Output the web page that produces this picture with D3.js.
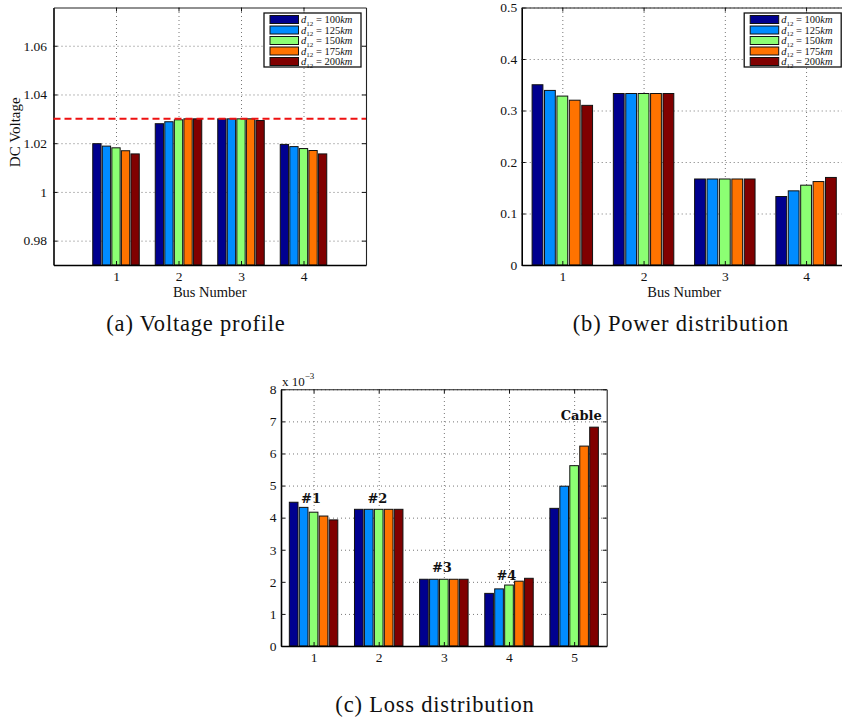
<!DOCTYPE html>
<html>
<head>
<meta charset="utf-8">
<script src="https://cdn.jsdelivr.net/npm/d3@7"></script>
<style>
  body { margin: 0; background: #fff; }
  text { font-family: "Liberation Serif", "Times New Roman", serif; fill: #111; }
</style>
</head>
<body>
<div id="chart"></div>
<script>
// series (line length d12 in km)
var seriesLabels = ["100", "125", "150", "175", "200"];

// (a) voltage profile, one row per bus, one value per series
var voltageBuses = [1, 2, 3, 4];
var voltageValues = [
  [1.0198, 1.0188, 1.0181, 1.0169, 1.0156],
  [1.0280, 1.0288, 1.0296, 1.0300, 1.0300],
  [1.0300, 1.0300, 1.0300, 1.0300, 1.0293],
  [1.0195, 1.0186, 1.0178, 1.0170, 1.0156]
];
var voltageTicks = [0.98, 1, 1.02, 1.04, 1.06];
var voltageLimit = 1.03;

// (b) power distribution
var powerBuses = [1, 2, 3, 4];
var powerValues = [
  [0.350, 0.339, 0.328, 0.320, 0.310],
  [0.333, 0.333, 0.333, 0.333, 0.333],
  [0.167, 0.167, 0.167, 0.167, 0.167],
  [0.133, 0.144, 0.155, 0.162, 0.170]
];
var powerTicks = [0, 0.1, 0.2, 0.3, 0.4, 0.5];

// (c) loss distribution (x 10^-3)
var lossBuses = [1, 2, 3, 4, 5];
var lossValues = [
  [4.48, 4.32, 4.17, 4.05, 3.93],
  [4.26, 4.26, 4.26, 4.26, 4.26],
  [2.08, 2.08, 2.08, 2.08, 2.08],
  [1.64, 1.78, 1.90, 2.02, 2.11],
  [4.29, 4.98, 5.62, 6.23, 6.82]
];
var lossTicks = [0, 1, 2, 3, 4, 5, 6, 7, 8];
var lossNotes = ["#1", "#2", "#3", "#4", "Cable"];
var lossNoteBus = [0.96, 1.98, 2.97, 3.96, 5.11];
var lossNoteValue = [4.46, 4.46, 2.31, 2.06, 7.04];

var barColors = ["#00008f", "#008cff", "#8cff73", "#ff7300", "#800000"];

var svg = d3.select("#chart")
  .append("svg")
  .attr("width", 842)
  .attr("height", 719);

svg.append("rect").attr("width", 842).attr("height", 719).attr("fill", "#fff");

function fmt(d) { return String(+d.toFixed(3)); }

// ve 1 panel bar chart kieu matlab
function drawPanel(p) {
  var w = p.right - p.left, h = p.bottom - p.top;
  var g = svg.append("g").attr("transform", "translate(" + p.left + "," + p.top + ")");

  var x = d3.scaleLinear().domain(p.xDomain).range([0, w]);
  var y = d3.scaleLinear().domain(p.yDomain).range([h, 0]);
  var step = x(2) - x(1);
  var inner = d3.scaleBand()
    .domain(seriesLabels)
    .range([-step * 0.372, step * 0.372])
    .paddingInner(0.13);

  // luoi cham
  g.append("g")
    .attr("class", "grid")
    .call(d3.axisLeft(y).tickValues(p.yTicks).tickSize(-w).tickFormat(""))
    .call(function(s) { s.select(".domain").remove(); });
  g.append("g")
    .attr("class", "grid")
    .attr("transform", "translate(0," + h + ")")
    .call(d3.axisBottom(x).tickValues(p.buses).tickSize(-h).tickFormat(""))
    .call(function(s) { s.select(".domain").remove(); });
  g.selectAll(".grid line")
    .attr("stroke", "#777")
    .attr("stroke-width", 1)
    .attr("stroke-dasharray", "1,3");

  // cac cot
  var groups = g.selectAll(".bus")
    .data(p.values)
    .enter().append("g")
    .attr("transform", function(d, i) { return "translate(" + x(p.buses[i]) + ",0)"; });

  groups.selectAll("rect")
    .data(function(d) { return d; })
    .enter().append("rect")
    .attr("x", function(d, j) { return inner(seriesLabels[j]); })
    .attr("y", function(d) { return y(Math.min(d, p.yDomain[1])); })
    .attr("width", inner.bandwidth())
    .attr("height", function(d) { return h - y(d); })
    .attr("fill", function(d, j) { return barColors[j]; })
    .attr("stroke", "#111")
    .attr("stroke-width", 1);

  // truc + tick huong vao trong
  var left = g.append("g")
    .call(d3.axisLeft(y).tickValues(p.yTicks).tickSizeInner(-4).tickSizeOuter(0).tickPadding(p.yPad).tickFormat(fmt));
  var bottom = g.append("g")
    .attr("transform", "translate(0," + h + ")")
    .call(d3.axisBottom(x).tickValues(p.buses).tickSizeInner(-4).tickSizeOuter(0).tickPadding(6.5).tickFormat(d3.format("d")));
  var top = g.append("g")
    .call(d3.axisTop(x).tickValues(p.buses).tickSizeInner(-4).tickSizeOuter(0).tickFormat(""));
  var right = g.append("g")
    .attr("transform", "translate(" + w + ",0)")
    .call(d3.axisRight(y).tickValues(p.yTicks).tickSizeInner(-4).tickSizeOuter(0).tickFormat(""));

  [left, bottom].forEach(function(a) {
    a.select(".domain").attr("stroke", "#000").attr("stroke-width", 1.6);
  });
  [top, right].forEach(function(a) {
    a.select(".domain").attr("stroke", "#222").attr("stroke-width", 1.1);
  });
  g.selectAll(".tick line").filter(function() { return !this.closest(".grid"); })
    .attr("stroke", "#111");
  g.selectAll(".tick text")
    .attr("font-size", "13.5px")
    .attr("fill", "#111");

  return { g: g, x: x, y: y, w: w, h: h };
}

function drawLegend(g, rightX) {
  var lw = 97, rowH = 10.5;
  var lg = g.append("g").attr("transform", "translate(" + (rightX - lw) + ",5.5)");
  lg.append("rect")
    .attr("width", lw).attr("height", 54)
    .attr("fill", "#fff").attr("stroke", "#111").attr("stroke-width", 1.3);
  var rows = lg.selectAll(".row")
    .data(seriesLabels)
    .enter().append("g")
    .attr("transform", function(d, i) { return "translate(0," + (6.5 + i * rowH) + ")"; });
  rows.append("rect")
    .attr("x", 6).attr("y", -4)
    .attr("width", 28.5).attr("height", 8)
    .attr("fill", function(d, i) { return barColors[i]; })
    .attr("stroke", "#111").attr("stroke-width", 1);
  var t = rows.append("text")
    .attr("x", 37).attr("y", 3.5)
    .attr("font-size", "10.5px");
  t.append("tspan").attr("font-style", "italic").text("d");
  t.append("tspan").attr("font-size", "7px").attr("dy", 2.5).text("12");
  t.append("tspan").attr("dy", -2.5).text(function(d) { return " = " + d; });
  t.append("tspan").attr("font-style", "italic").text("km");
}

// (a) Voltage profile
var pa = drawPanel({
  left: 53.5, right: 366, top: 7.5, bottom: 265,
  xDomain: [0, 5], yDomain: [0.97, 1.0757],
  buses: voltageBuses, values: voltageValues, yTicks: voltageTicks, yPad: 6.5
});
pa.g.append("line")
  .attr("x1", 0).attr("x2", pa.w)
  .attr("y1", pa.y(voltageLimit)).attr("y2", pa.y(voltageLimit))
  .attr("stroke", "#ee1111").attr("stroke-width", 2)
  .attr("stroke-dasharray", "7,4");
drawLegend(pa.g, pa.w - 5);
pa.g.append("text")
  .attr("x", pa.w / 2).attr("y", 289.5)
  .attr("text-anchor", "middle").attr("font-size", "14.5px")
  .text("Bus Number");
pa.g.append("text")
  .attr("transform", "translate(-34," + (pa.h / 2 - 4) + ") rotate(-90)")
  .attr("text-anchor", "middle").attr("font-size", "15px")
  .text("DC Voltage");

// (b) Power distribution
var pb = drawPanel({
  left: 521.7, right: 846.7, top: 7.5, bottom: 265,
  xDomain: [0.5, 4.5], yDomain: [0, 0.5],
  buses: powerBuses, values: powerValues, yTicks: powerTicks, yPad: 4.5
});
drawLegend(pb.g, pb.w - 5.5);
pb.g.append("text")
  .attr("x", pb.w / 2).attr("y", 289.5)
  .attr("text-anchor", "middle").attr("font-size", "14.5px")
  .text("Bus Number");

// (c) Loss distribution
var pc = drawPanel({
  left: 281, right: 606.7, top: 389.3, bottom: 646,
  xDomain: [0.5, 5.5], yDomain: [0, 8],
  buses: lossBuses, values: lossValues, yTicks: lossTicks, yPad: 4.5
});
pc.g.selectAll(".note")
  .data(lossNotes)
  .enter().append("text")
  .attr("x", function(d, i) { return pc.x(lossNoteBus[i]); })
  .attr("y", function(d, i) { return pc.y(lossNoteValue[i]); })
  .attr("text-anchor", "middle")
  .style("font-family", "'DejaVu Serif', serif")
  .style("font-weight", "bold")
  .style("font-size", "13px")
  .text(function(d) { return d; });
var ex = pc.g.append("text")
  .attr("x", 1).attr("y", -3.5)
  .attr("font-size", "13px");
ex.append("tspan").text("x 10");
ex.append("tspan").attr("font-size", "9px").attr("dy", -7).text("\u22123");

// chu thich duoi hinh
var caps = [
  { t: "(a) Voltage profile", x: 196, y: 331 },
  { t: "(b) Power distribution", x: 681, y: 331 },
  { t: "(c) Loss distribution", x: 435, y: 712 }
];
svg.selectAll(".cap")
  .data(caps)
  .enter().append("text")
  .attr("x", function(d) { return d.x; })
  .attr("y", function(d) { return d.y; })
  .attr("text-anchor", "middle")
  .attr("font-size", "22.5px")
  .attr("letter-spacing", "0.8px")
  .text(function(d) { return d.t; });
</script>
</body>
</html>
